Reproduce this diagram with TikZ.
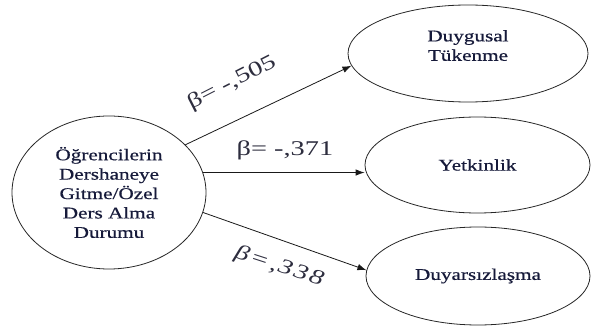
\documentclass[tikz,border=0pt]{standalone}
\usepackage{fontspec}
\setmainfont{Liberation Serif}
\newfontfamily\ovalfont{Liberation Serif}[FakeStretch=1.3,FakeBold=0.6]
\newfontfamily\coeffont{Liberation Serif}[FakeStretch=1.35]
\usepackage{tikz}
\usetikzlibrary{arrows.meta,positioning,shapes.geometric}
\definecolor{inkblue}{RGB}{22,26,58}
\definecolor{coefgray}{RGB}{45,45,62}

\begin{document}
\begin{tikzpicture}[x=1pt,y=-1pt,
  oval/.style={ellipse,draw=black!85,line width=0.8pt,inner sep=0pt,
    align=center,text=inkblue,font=\ovalfont\fontsize{16.3}{19.4}\selectfont},
  link/.style={-{Latex[length=9pt,width=6.5pt]},line width=0.8pt,black!90},
  coef/.style={text=coefgray,font=\coeffont\fontsize{21}{24}\selectfont}]
\useasboundingbox (0,0) rectangle (592,326);
\node[oval,minimum width=194pt,minimum height=153pt] (src) at (109,192.5)
  {Öğrencilerin\\Dershaneye\\Gitme/Özel\\Ders Alma\\Durumu};
\node[oval,minimum width=240pt,minimum height=97pt,
  label={[align=center,text=inkblue,font=\ovalfont\fontsize{16.3}{19.4}\selectfont,
    yshift=8pt]center:Duygusal\\Tükenme}] (tuk) at (468,53.5) {};
\node[oval,minimum width=225pt,minimum height=96pt] (yet) at (477.5,165) {Yetkinlik};
\node[oval,minimum width=224pt,minimum height=98pt] (duy) at (478,276) {Duyarsızlaşma};
\draw[link] (src.32) -- (tuk.186);
\draw[link] (src.12) -- (src.12 -| yet.west);
\draw[link] (src.348) -- (duy.177);
\node[coef,rotate=27] (b1) at (232,83) {β= -,505};
\node[coef] (b2) at (285,150) {β= -,371};
\node[coef,rotate=-18,font=\coeffont\itshape\addfontfeature{LetterSpace=9}\fontsize{21}{24}\selectfont] (b3) at (279,267) {β=,338};
\end{tikzpicture}
\end{document}
